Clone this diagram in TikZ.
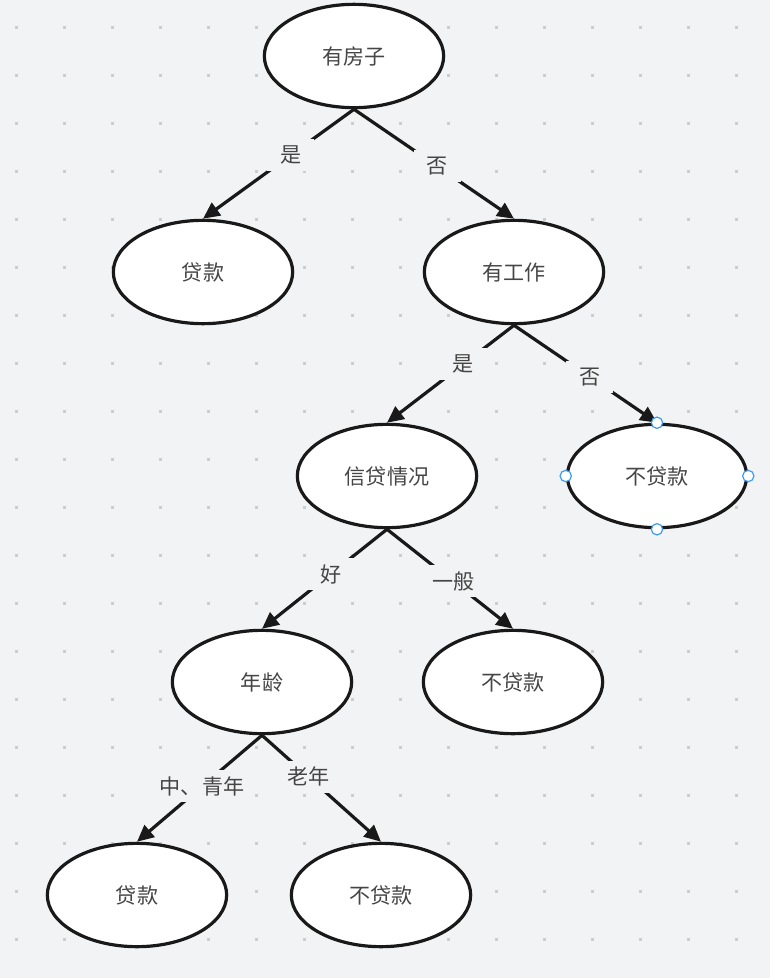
\documentclass[tikz,border=0pt]{standalone}
\usepackage{fontspec}
\setmainfont{Noto Sans CJK SC}
\usepackage{tikz}
\usetikzlibrary{shapes.geometric, arrows.meta}
\definecolor{canvas}{HTML}{F2F3F5}
\definecolor{griddot}{HTML}{CDCDD0}
\definecolor{inkgray}{HTML}{454545}
\definecolor{handleblue}{HTML}{3D9BF7}

\begin{document}
\begin{tikzpicture}
  [
    x = 0.75pt, y = -0.75pt,
    line width = 2.4pt, draw = black!90,
    every node/.style = {draw, ellipse, fill = white, text = inkgray,
      minimum width = 134.5pt, minimum height = 77.5pt,
      font = \fontsize{15.8}{18}\selectfont},
    branch/.style = {-{Triangle[length = 12.5pt, width = 11.5pt]}},
    handle/.style = {circle, draw = handleblue, fill = white,
      line width = 0.9pt, minimum size = 8.5pt, inner sep = 0pt}
  ]
  % canvas with dot grid
  \fill [canvas] (0, 0) rectangle (770, 978);
  \useasboundingbox (0, 0) rectangle (770, 978);
  \foreach \gx in {0,...,15} {
    \foreach \gy in {0,...,19} {
      \fill [griddot] ({16+48*\gx-1.5}, {27+48*\gy-1.5}) rectangle ++(3, 3);
    }
  }
  \node (Root) at (354, 56)  {有房子};
  \node (A1)   at (203, 272) {贷款};
  \node (A2)   at (514, 272) {有工作};
  \node (B1)   at (387, 476) {信贷情况};
  \node (B2)   at (657, 476) {不贷款};
  \node (C1)   at (262, 682) {年龄};
  \node (C2)   at (513, 682) {不贷款};
  \node (D1)   at (137, 895) {贷款};
  \node (D2)   at (381, 895) {不贷款};
  \draw [branch] (Root.south) -- (A1.north);
  \draw [branch] (Root.south) -- (A2.north);
  \draw [branch] (A2.south) -- (B1.north);
  \draw [branch] (A2.south) -- (B2.north);
  \draw [branch] (B1.south) -- (C1.north);
  \draw [branch] (B1.south) -- (C2.north);
  \draw [branch] (C1.south) -- (D1.north);
  \draw [branch] (C1.south) -- (D2.north);
  \begin{scope}[nodes = {draw = none, shape = rectangle, fill = canvas,
      minimum width = 35pt, minimum height = 24pt, inner sep = 4.5pt}]
    \path (Root.south) -- (A1.north) node [pos = 0.42]  {是};
    \path (Root.south) -- (A2.north) node [pos = 0.52]  {否};
    \path (A2.south) -- (B1.north)   node [pos = 0.40]  {是};
    \path (A2.south) -- (B2.north)   node [pos = 0.53]  {否};
    \path (B1.south) -- (C1.north)   node [pos = 0.45]  {好};
    \path (B1.south) -- (C2.north)   node [pos = 0.525] {一般};
    \path (C1.south) -- (D1.north)   node [pos = 0.48]  {中、青年};
    \path (C1.south) -- (D2.north)   node [pos = 0.39]  {老年};
  \end{scope}
  % selection handles
  \node [handle] (H1) at (B2.north) {};
  \node [handle] (H2) at (B2.south) {};
  \node [handle] (H3) at (B2.east)  {};
  \node [handle] (H4) at (B2.west)  {};
\end{tikzpicture}
\end{document}
